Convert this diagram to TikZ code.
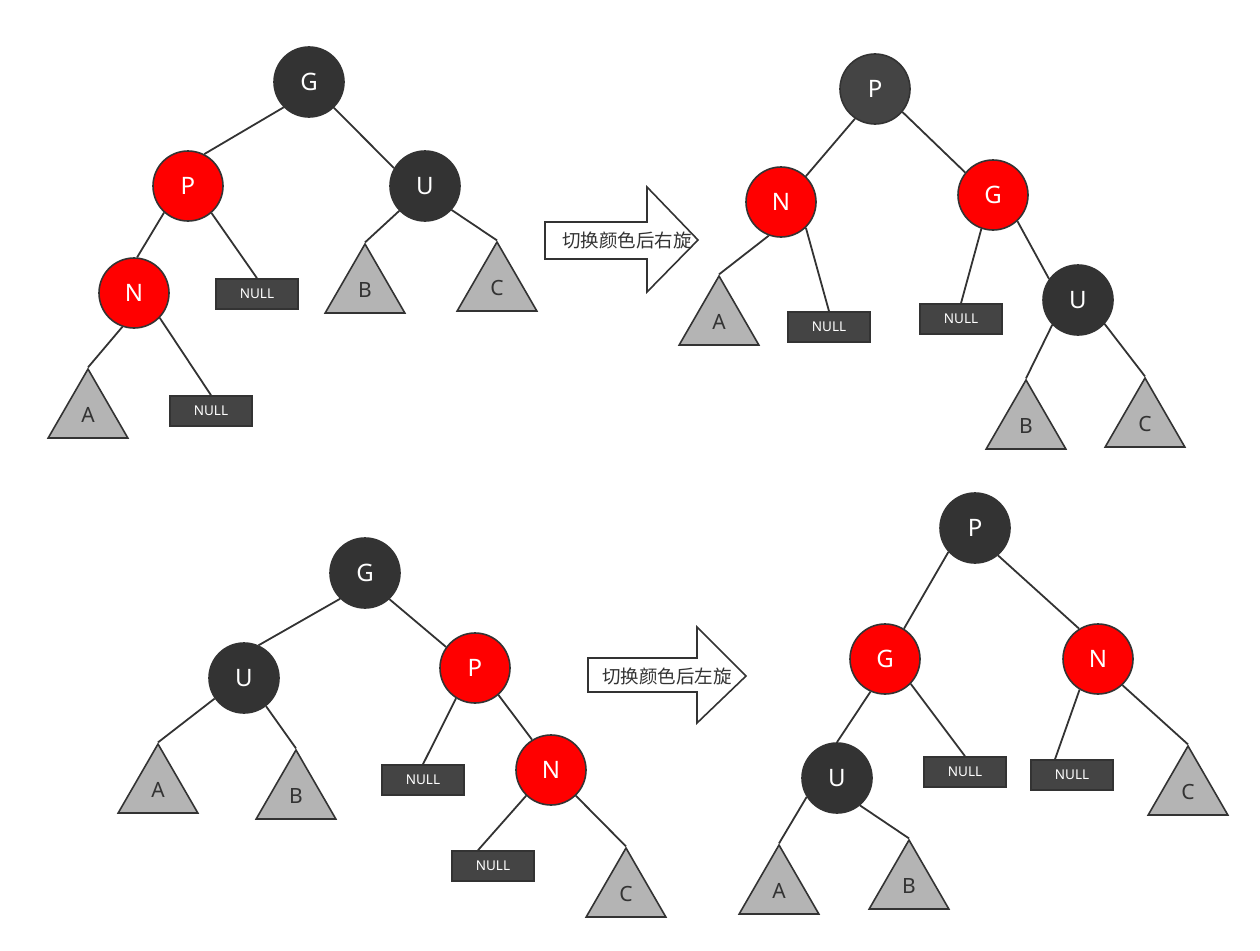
\documentclass[tikz,border=0pt]{standalone}
\usepackage{fontspec}
\setmainfont{Noto Sans}
\newfontfamily\cjk{Noto Sans CJK SC}
\usetikzlibrary{shapes.geometric}
\definecolor{ink}{HTML}{333333}
\definecolor{rbred}{HTML}{FF0000}
\definecolor{slate}{HTML}{444444}
\definecolor{shade}{HTML}{B4B4B4}

\begin{document}
\begin{tikzpicture}[x=1pt,y=-1pt,every node/.style={align=center},blk/.style={circle,draw=ink,line width=1.6pt,fill=ink,text=white,minimum size=70pt,inner sep=0pt,font=\fontsize{24}{24}\selectfont},rnode/.style={blk,fill=rbred},nil/.style={draw=ink,line width=1.6pt,fill=slate,text=white,minimum width=82pt,minimum height=30pt,inner sep=0pt,font=\fontsize{13.5}{14}\selectfont},sub/.style={regular polygon,regular polygon sides=3,draw=ink,line width=1.6pt,fill=shade,text=ink,minimum size=92pt,inner sep=0pt,font=\fontsize{21}{21}\selectfont},link/.style={ink,line width=1.8pt},turn/.style={draw=ink,line width=1.6pt,fill=white,line join=miter},note/.style={text=ink,font=\cjk\fontsize{18.5}{19}\selectfont}]
\useasboundingbox (0,0) rectangle (1260,950);
% top left
\node[blk] (g1) at (309,82) {G}; \node[rnode] (p1) at (188,186) {P};
\node[blk] (u1) at (425,186) {U}; \node[rnode] (n1) at (134,293) {N};
\node[nil] (z1) at (257,294) {NULL}; \node[nil] (z2) at (211,411) {NULL};
\node[sub] (a1) at (88,415) {A}; \node[sub] (b1) at (365,290) {B}; \node[sub] (c1) at (497,288) {C};
\draw[link] (g1.225)--(p1.63); \draw[link] (g1.314)--(u1.150);
\draw[link] (p1.228)--(n1.85); \draw[link] (p1.311)--(z1.north);
\draw[link] (n1.251)--(a1.corner 1); \draw[link] (n1.316)--(z2.north);
\draw[link] (u1.224)--(b1.corner 1); \draw[link] (u1.318)--(c1.corner 1);
% arrow 1
\draw[turn] (545,222)--(647,222)--(647,187)--(698,240)--(647,292)--(647,259)--(545,259)--cycle;
\node[note] (t1) at (627,240) {切换颜色后右旋};
% top right
\node[blk,fill=slate] (p2) at (875,89) {P}; \node[rnode] (n2) at (781,202) {N};
\node[rnode] (g2) at (993,195) {G}; \node[blk] (u2) at (1078,300) {U};
\node[nil] (z3) at (829,327) {NULL}; \node[nil] (z4) at (961,319) {NULL};
\node[sub] (a2) at (719,322) {A}; \node[sub] (b2) at (1026,426) {B}; \node[sub] (c2) at (1145,424) {C};
\draw[link] (p2.236)--(n2.46); \draw[link] (p2.320)--(g2.141);
\draw[link] (n2.250)--(a2.corner 1); \draw[link] (n2.314)--(z3.north);
\draw[link] (g2.251)--(z4.north); \draw[link] (g2.313)--(u2.144);
\draw[link] (u2.224)--(b2.corner 1); \draw[link] (u2.318)--(c2.corner 1);
% bottom left
\node[blk] (g3) at (365,573) {G}; \node[blk] (u3) at (244,678) {U};
\node[rnode] (p3) at (475,668) {P}; \node[rnode] (n3) at (551,770) {N};
\node[nil] (z5) at (423,780) {NULL}; \node[nil] (z6) at (493,866) {NULL};
\node[sub] (a3) at (158,790) {A}; \node[sub] (b3) at (296,796) {B}; \node[sub] (c3) at (626,894) {C};
\draw[link] (g3.226)--(u3.66); \draw[link] (g3.313)--(p3.144);
\draw[link] (u3.215)--(a3.corner 1); \draw[link] (u3.308)--(b3.corner 1);
\draw[link] (p3.238)--(z5.north); \draw[link] (p3.311)--(n3.122);
\draw[link] (n3.226)--([xshift=-15pt]z6.north); \draw[link] (n3.314)--(c3.corner 1);
% arrow 2
\draw[turn] (588,658)--(697,658)--(697,627)--(746,676)--(697,723)--(697,692)--(588,692)--cycle;
\node[note] (t2) at (667,676) {切换颜色后左旋};
% bottom right
\node[blk] (p4) at (975,528) {P}; \node[rnode] (g4) at (885,659) {G};
\node[rnode] (n4) at (1098,659) {N}; \node[blk] (u4) at (837,778) {U};
\node[nil] (z7) at (965,772) {NULL}; \node[nil] (z8) at (1072,775) {NULL};
\node[sub] (a4) at (779,891) {A}; \node[sub] (b4) at (909,886) {B}; \node[sub] (c4) at (1188,792) {C};
\draw[link] (p4.222)--(g4.58); \draw[link] (p4.310)--(n4.122);
\draw[link] (g4.246)--(u4.north); \draw[link] (g4.316)--(z7.north);
\draw[link] (n4.239)--([xshift=-17pt]z8.north); \draw[link] (n4.313)--(c4.corner 1);
\draw[link] (u4.212)--(a4.corner 1); \draw[link] (u4.310)--(b4.corner 1);
\end{tikzpicture}
\end{document}
